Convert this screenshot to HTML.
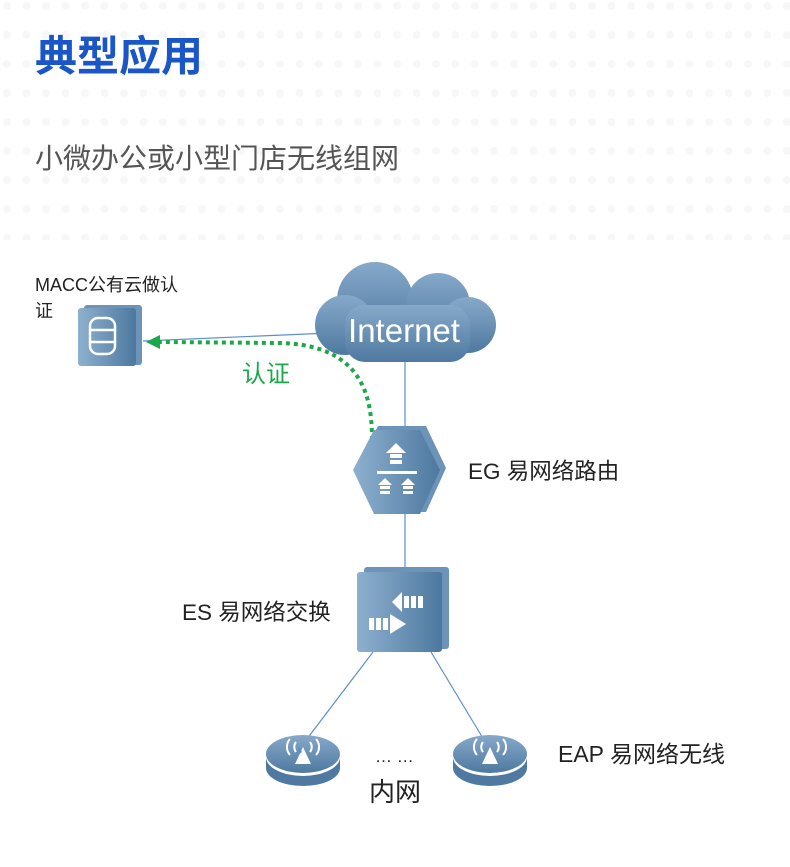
<!DOCTYPE html>
<html><head><meta charset="utf-8"><style>
body{margin:0;background:#fff;}
svg{display:block;}
</style></head><body>
<svg width="790" height="867" viewBox="0 0 790 867" xmlns="http://www.w3.org/2000/svg" font-family="Liberation Sans, Noto Sans CJK SC, sans-serif">
<defs>
<linearGradient id="g" x1="0" y1="0" x2="1" y2="0"><stop offset="0" stop-color="#8eb0cf"/><stop offset="1" stop-color="#4d789f"/></linearGradient>
<linearGradient id="gc" x1="0" y1="0" x2="0" y2="1"><stop offset="0" stop-color="#86a9ca"/><stop offset="1" stop-color="#4f79a0"/></linearGradient>
<pattern id="dots" width="19.5" height="29" patternUnits="userSpaceOnUse"><circle cx="7" cy="6" r="4" fill="#f7f7f7"/></pattern>
</defs>
<rect x="0" y="0" width="790" height="240" fill="url(#dots)"/>
<rect x="0" y="240" width="790" height="627" fill="#fff"/>
<text x="35" y="71" font-size="42" font-weight="bold" fill="#1a56c8">典型应用</text>
<text x="35" y="168" font-size="28" fill="#555">小微办公或小型门店无线组网</text>

<text x="35" y="291" font-size="18" fill="#222">MACC公有云做认</text>
<text x="35" y="317" font-size="18" fill="#222">证</text>
<!-- server -->
<rect x="84" y="305" width="58" height="60" rx="3" fill="#6d93b8"/>
<rect x="78" y="308" width="58" height="58" rx="3" fill="url(#g)"/>
<g fill="none" stroke="#fff" stroke-width="2.5">
<rect x="90" y="318" width="25" height="36" rx="8"/>
<line x1="90" y1="330" x2="115" y2="330"/><line x1="90" y1="342" x2="115" y2="342"/>
</g>
<!-- lines -->
<line x1="330" y1="333" x2="143" y2="341" stroke="#5b8fd0" stroke-width="1.2"/>
<line x1="405" y1="360" x2="405" y2="430" stroke="#5b8fd0" stroke-width="1.2"/>
<line x1="405" y1="512" x2="405" y2="568" stroke="#5b8fd0" stroke-width="1.2"/>
<line x1="373" y1="652" x2="297" y2="752" stroke="#5b8fd0" stroke-width="1.2"/>
<line x1="431" y1="652" x2="484" y2="740" stroke="#5b8fd0" stroke-width="1.2"/>
<!-- cloud -->
<g fill="url(#gc)">
<circle cx="375" cy="300" r="38"/>
<circle cx="438" cy="305" r="32"/>
<circle cx="468" cy="325" r="28"/>
<circle cx="345" cy="325" r="30"/>
<rect x="345" y="305" width="125" height="57" rx="20"/>
</g>
<text x="404" y="342" font-size="33" fill="#fff" text-anchor="middle">Internet</text>
<!-- green dotted -->
<path d="M372 440 C372 400 365 345 280 343 L160 342" fill="none" stroke="#1aa84a" stroke-width="4" stroke-dasharray="4 4"/>
<polygon points="146,342 160,335 160,349" fill="#1aa84a"/>
<text x="242" y="382" font-size="24" fill="#1aa84a">认证</text>
<!-- EG -->
<polygon points="378,426 426,426 446,468 426,512 378,512 356,468" fill="#6d93b8"/>
<polygon points="374,430 420,430 440,470 420,514 374,514 353,470" fill="url(#g)"/>
<g fill="#fff">
<polygon points="396,443 386,453 406,453"/><rect x="390" y="454" width="12" height="4"/><rect x="390" y="460" width="12" height="4"/>
<rect x="377" y="471" width="40" height="3"/>
<polygon points="385,478 378,485 392,485"/><rect x="380" y="486" width="10" height="3"/><rect x="380" y="491" width="10" height="3"/>
<polygon points="408,478 401,485 415,485"/><rect x="403" y="486" width="10" height="3"/><rect x="403" y="491" width="10" height="3"/>
</g>
<text x="468" y="479" font-size="22.5" fill="#222">EG 易网络路由</text>
<!-- ES -->
<rect x="364" y="567" width="85" height="82" rx="3" fill="#6d93b8"/>
<rect x="357" y="572" width="85" height="80" rx="3" fill="url(#g)"/>
<g fill="#fff">
<polygon points="392,602 402,592 402,612"/><rect x="404" y="596" width="5" height="12"/><rect x="411" y="596" width="5" height="12"/><rect x="418" y="596" width="5" height="12"/>
<rect x="369" y="618" width="5" height="12"/><rect x="376" y="618" width="5" height="12"/><rect x="383" y="618" width="5" height="12"/><polygon points="390,614 406,624 390,634"/>
</g>
<text x="182" y="620" font-size="22.5" fill="#222">ES 易网络交换</text>
<!-- APs -->
<g id="ap">
<ellipse cx="303" cy="768" rx="37" ry="18" fill="#4f79a0"/>
<rect x="266" y="757" width="74" height="11" fill="#4f79a0"/>
<ellipse cx="303" cy="757" rx="37" ry="19" fill="#fff"/>
<ellipse cx="303" cy="754" rx="37" ry="19" fill="url(#gc)"/>
<polygon points="303,747 295,764 311,764" fill="#fff"/>
<g fill="none" stroke="#fff" stroke-width="2">
<path d="M296 742 a8 8 0 0 0 0 10"/><path d="M310 742 a8 8 0 0 1 0 10"/>
<path d="M290 739 a12 12 0 0 0 0 16"/><path d="M316 739 a12 12 0 0 1 0 16"/>
</g>
</g>
<use href="#ap" x="187"/>
<polygon points="295,757 299,747 302,752" fill="#5b8fd0"/>
<text x="375" y="762" font-size="17" fill="#222">… …</text>
<text x="369" y="801" font-size="26" fill="#222">内网</text>
<text x="558" y="762" font-size="23" fill="#222">EAP 易网络无线</text>
</svg>
</body></html>
